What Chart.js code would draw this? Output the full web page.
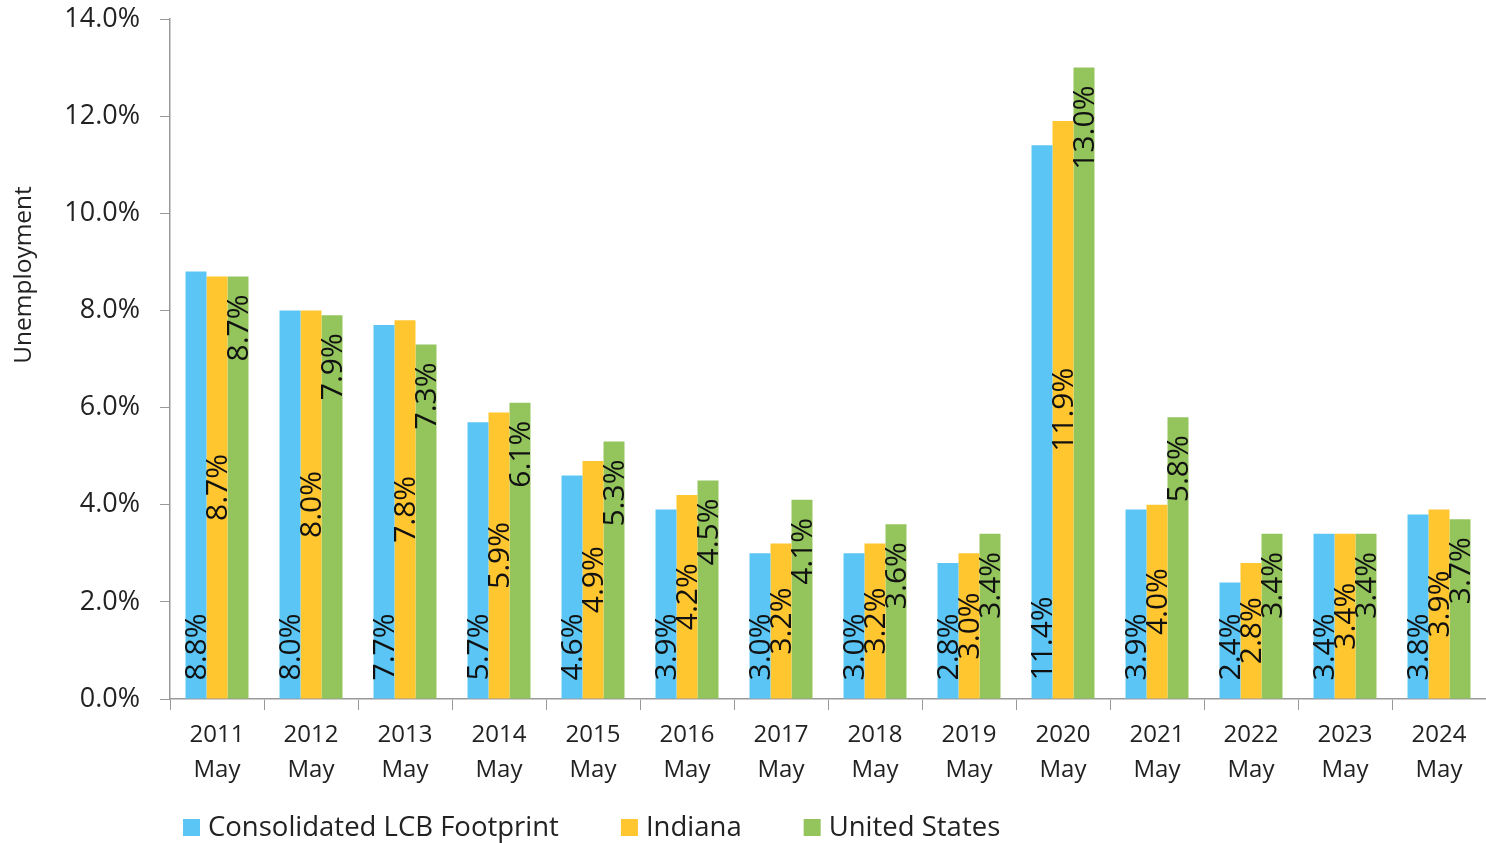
<!DOCTYPE html>
<html>
<head>
<meta charset="utf-8">
<script src="https://cdn.jsdelivr.net/npm/chart.js@4/dist/chart.umd.min.js"></script>
<style>
  html, body { margin: 0; padding: 0; background: #fff; }
  #wrap { width: 1486px; height: 843px; position: relative; }
</style>
</head>
<body>
<div id="wrap"><canvas id="c" width="1486" height="843"></canvas></div>
<script>
const years = ['2011','2012','2013','2014','2015','2016','2017','2018','2019','2020','2021','2022','2023','2024'];
const monthLabel = 'May';
const seriesNames = ['Consolidated LCB Footprint', 'Indiana', 'United States'];
const footprint = [8.8, 8.0, 7.7, 5.7, 4.6, 3.9, 3.0, 3.0, 2.8, 11.4, 3.9, 2.4, 3.4, 3.8];
const indiana   = [8.7, 8.0, 7.8, 5.9, 4.9, 4.2, 3.2, 3.2, 3.0, 11.9, 4.0, 2.8, 3.4, 3.9];
const unitedStates = [8.7, 7.9, 7.3, 6.1, 5.3, 4.5, 4.1, 3.6, 3.4, 13.0, 5.8, 3.4, 3.4, 3.7];
const yTicks = [0, 2, 4, 6, 8, 10, 12, 14];
const yTitle = 'Unemployment';

const FONT = "'Open Sans', 'DejaVu Sans', sans-serif";
const colors = ['#5BC6F5', '#FFC62F', '#93C55C'];
const labelPlacement = ['base', 'center', 'end'];

const valueLabels = {
  id: 'valueLabels',
  afterDatasetsDraw(chart) {
    const ctx = chart.ctx;
    ctx.save();
    ctx.font = '30px ' + FONT;
    ctx.fillStyle = '#111';
    ctx.textBaseline = 'middle';
    chart.data.datasets.forEach((ds, i) => {
      const meta = chart.getDatasetMeta(i);
      meta.data.forEach((bar, j) => {
        const txt = ds.data[j].toFixed(1) + '%';
        const place = labelPlacement[i];
        ctx.save();
        let y;
        if (place === 'base') { y = bar.base - 18; ctx.textAlign = 'left'; }
        else if (place === 'center') { y = (bar.y + bar.base) / 2; ctx.textAlign = 'center'; }
        else { y = bar.y + 18; ctx.textAlign = 'right'; }
        ctx.translate(bar.x + 1, y);
        ctx.rotate(-Math.PI / 2);
        ctx.fillText(txt, 0, 0);
        ctx.restore();
      });
    });
    ctx.restore();
  }
};

const customLegendAndTitle = {
  id: 'customLegendAndTitle',
  afterDraw(chart) {
    const ctx = chart.ctx;
    ctx.save();
    // y-axis title
    ctx.font = '24.5px ' + FONT;
    ctx.fillStyle = '#222';
    ctx.textAlign = 'center';
    ctx.textBaseline = 'middle';
    ctx.translate(24, 275);
    ctx.rotate(-Math.PI / 2);
    ctx.fillText(yTitle, 0, 0);
    ctx.restore();

    // legend
    ctx.save();
    ctx.font = '27.5px ' + FONT;
    ctx.textBaseline = 'middle';
    ctx.textAlign = 'left';
    let x = 183;
    const yc = 827;
    chart.data.datasets.forEach((ds) => {
      ctx.fillStyle = ds.backgroundColor;
      ctx.fillRect(x, yc - 8, 17, 17);
      ctx.fillStyle = '#222';
      ctx.fillText(ds.label, x + 25, yc + 1);
      x += 25 + ctx.measureText(ds.label).width + 62;
    });
    ctx.restore();
  }
};

new Chart(document.getElementById('c'), {
  type: 'bar',
  data: {
    labels: years.map(y => [y, monthLabel]),
    datasets: [
      { label: seriesNames[0], data: footprint, backgroundColor: colors[0] },
      { label: seriesNames[1], data: indiana, backgroundColor: colors[1] },
      { label: seriesNames[2], data: unitedStates, backgroundColor: colors[2] }
    ]
  },
  options: {
    responsive: false,
    animation: false,
    layout: { padding: { top: 19, left: 0, right: 0, bottom: 34 } },
    datasets: { bar: { categoryPercentage: 0.67, barPercentage: 1.0, borderWidth: 0 } },
    plugins: { legend: { display: false }, tooltip: { enabled: false } },
    scales: {
      x: {
        offset: true,
        grid: { display: true, drawOnChartArea: false, drawTicks: true, tickLength: 11, color: '#999', offset: true },
        border: { display: true, color: '#999', width: 1.5 },
        ticks: { font: { family: FONT, size: 24, lineHeight: 1.45 }, color: '#222', padding: 8, maxRotation: 0, autoSkip: false },
        afterFit(s) { s.height = 110; s.paddingLeft = 0; s.paddingRight = 0; }
      },
      y: {
        min: 0, max: 14,
        afterBuildTicks(s) { s.ticks = yTicks.map(v => ({ value: v })); },
        grid: { display: true, drawOnChartArea: false, drawTicks: true, tickLength: 10, color: '#999' },
        border: { display: true, color: '#999', width: 1.5 },
        ticks: { font: { family: FONT, size: 27 }, color: '#222', padding: 20, callback: v => Number(v).toFixed(1) + '%' },
        afterFit(s) { s.width = 170; s.paddingTop = 0; s.paddingBottom = 0; }
      }
    }
  },
  plugins: [valueLabels, customLegendAndTitle]
});
</script>
</body>
</html>
